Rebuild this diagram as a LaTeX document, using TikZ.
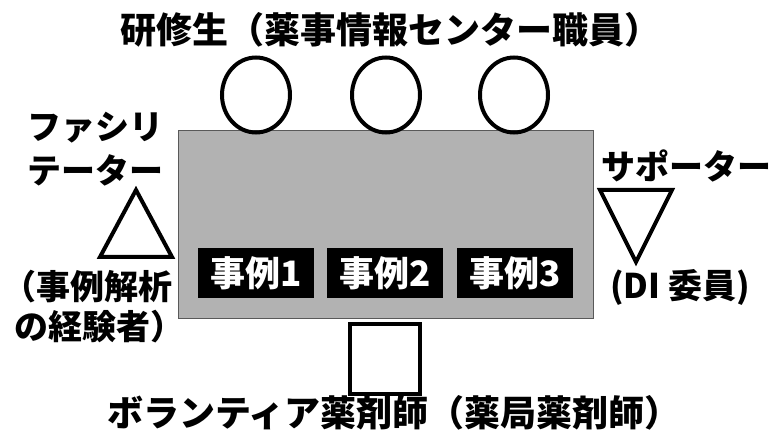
\documentclass[tikz,border=0pt]{standalone}
\usepackage{fontspec}
\setmainfont{Noto Sans CJK JP}
\usetikzlibrary{shapes.geometric}
\begin{document}
\begin{tikzpicture}[x=0.5pt,y=-0.5pt,
    jtext/.style={font=\bfseries\fontsize{17}{20}\selectfont,inner sep=0pt},
    bigtext/.style={font=\bfseries\fontsize{18}{21}\selectfont,inner sep=0pt},
    member/.style={draw,line width=2pt},
    casebox/.style={fill=black,text=white,minimum width=58pt,minimum height=25pt,inner sep=0pt,font=\bfseries\fontsize{17.5}{20}\selectfont}]
  \useasboundingbox (0,0) rectangle (772,433);
  % table with the cases
  \node[draw=gray!70!black,fill=gray!60,minimum width=207.5pt,minimum height=94pt,inner sep=0pt] (table) at (385.5,224) {};
  \node[casebox] (case1) at (256,273) {事例1};
  \node[casebox] (case2) at (385,273) {事例2};
  \node[casebox] (case3) at (515,273) {事例3};
  % trainees
  \node[bigtext] (trainees) at (390,30) {研修生（薬事情報センター職員）};
  \foreach \i/\x in {1/256,2/386,3/514}
    \node[member,ellipse,minimum width=34pt,minimum height=37.5pt,inner sep=0pt] (trainee\i) at (\x,95) {};
  % facilitator
  \node[jtext] (fac1) at (95,128) {ファシリ};
  \node[jtext] (fac2) at (95,170) {テーター};
  \draw[member,line join=miter] (100,257) -- (172,257) -- (136,190) -- cycle;
  \node[jtext] (fac3) at (88,287) {（事例解析};
  \node[jtext] (fac4) at (100,327) {の経験者）};
  % supporter
  \node[jtext] (sup1) at (686,166) {サポーター};
  \draw[member,line join=miter] (600,190) -- (672,190) -- (636,262) -- cycle;
  \node[jtext] (sup2) at (680,287) {(DI 委員)};
  % volunteer
  \node[member,minimum width=35pt,minimum height=35pt,inner sep=0pt] (volunteer) at (385,359) {};
  \node[bigtext] (vol) at (394,413) {ボランティア薬剤師（薬局薬剤師）};
\end{tikzpicture}
\end{document}
